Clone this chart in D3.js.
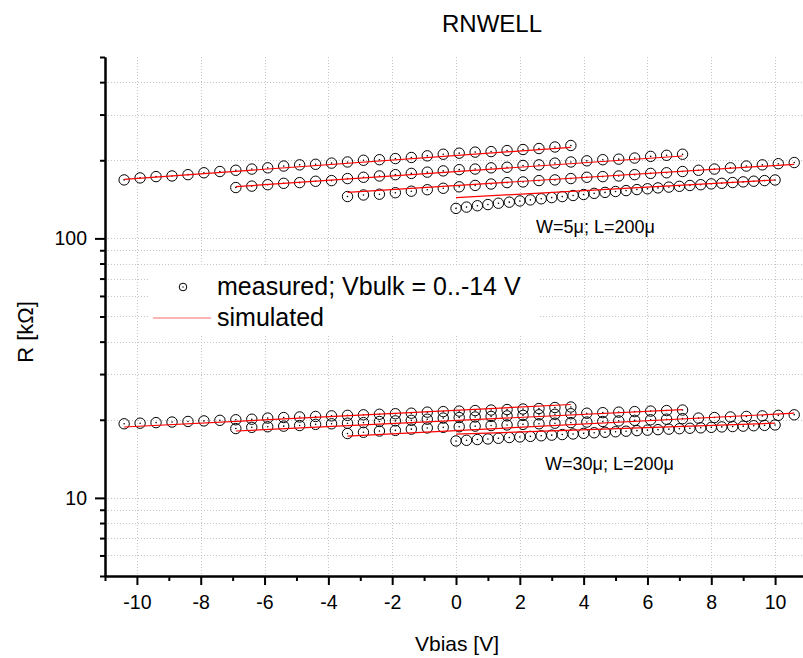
<!DOCTYPE html>
<html>
<head>
<meta charset="utf-8">
<script src="https://cdn.jsdelivr.net/npm/d3@7"></script>
<style>
    body { margin: 0; background: #fff; }
    text { font-family: Arial, "Liberation Sans", sans-serif; fill: #000; }
</style>
</head>
<body>
<div id="chart"></div>
<script>
// Vbias sweep points (V)
var vbiasA = [-10.4,-9.9,-9.4,-8.9,-8.4,-7.9,-7.4,-6.9,-6.4,-5.9,-5.4,-4.9,-4.4,-3.9,-3.4,-2.9,-2.4,-1.9,-1.4,-0.9,-0.4,0.1,0.6,1.1,1.6,2.1,2.6,3.1,3.6];
var vbiasB = [-6.9,-6.4,-5.9,-5.4,-4.9,-4.4,-3.9,-3.4,-2.9,-2.4,-1.9,-1.4,-0.9,-0.4,0.1,0.6,1.1,1.6,2.1,2.6,3.1,3.6,4.1,4.6,5.1,5.6,6.1,6.6,7.1];
var vbiasC = [-3.4,-2.9,-2.4,-1.9,-1.4,-0.9,-0.4,0.1,0.6,1.1,1.6,2.1,2.6,3.1,3.6,4.1,4.6,5.1,5.6,6.1,6.6,7.1,7.6,8.1,8.6,9.1,9.6,10.1,10.6];
var vbiasD = [0,0.33,0.67,1,1.33,1.67,2,2.33,2.67,3,3.33,3.67,4,4.33,4.67,5,5.33,5.67,6,6.33,6.67,7,7.33,7.67,8,8.33,8.67,9,9.33,9.67,10];

// measured R (kOhm), W=5u
var r5A = [168,171,173,174,176,179,181,183,185,187,190,192,193,195,197,200,201,203,205,208,211,213,215,216,218,220,222,225,228];
var r5B = [157,159,161,163,164,166,167,170,172,174,176,178,180,182,184,185,187,188,191,192,195,197,199,201,202,204,207,209,211];
var r5C = [145,147,148,150,152,154,156,158,160,162,164,165,167,168,170,172,173,174,176,178,179,181,183,185,187,190,192,194,196];
var r5D = [130.5,132,133.6,135,136.6,137.9,139.4,140.7,142.1,143.6,144.9,146.3,147.6,149.1,150.4,151.6,152.8,154.2,155.3,156.5,157.6,158.7,159.9,161,162.2,163,164.1,165.1,166.1,167,167.9];

// measured R (kOhm), W=30u
var r30A = [19.3,19.4,19.5,19.6,19.7,19.8,19.9,20.0,20.1,20.3,20.4,20.5,20.6,20.7,20.8,20.9,21.0,21.1,21.2,21.4,21.5,21.6,21.7,21.8,21.9,22.0,22.1,22.3,22.4];
var r30B = [18.5,18.7,18.8,18.9,19.0,19.2,19.3,19.4,19.5,19.7,19.8,19.9,20.1,20.3,20.4,20.5,20.6,20.7,20.8,20.9,21.0,21.1,21.2,21.3,21.4,21.5,21.6,21.7,21.8];
var r30C = [17.7,17.9,18.1,18.2,18.4,18.6,18.7,18.8,18.9,19.0,19.1,19.2,19.3,19.4,19.5,19.6,19.7,19.8,19.9,20.0,20.1,20.2,20.3,20.4,20.5,20.6,20.7,20.8,20.9];
var r30D = [16.57,16.67,16.78,16.87,16.97,17.08,17.17,17.26,17.35,17.45,17.54,17.63,17.73,17.82,17.9,17.98,18.07,18.16,18.24,18.32,18.4,18.47,18.55,18.62,18.7,18.77,18.83,18.9,18.97,19.03,19.1];

// simulated lines: end points of each sweep
var simXA = [-10.4, 3.6], simXB = [-6.9, 7.1], simXC = [-3.4, 10.6], simXD = [0, 10];
var sim5A = [168.9, 224.4], sim5B = [158.2, 207.7], sim5C = [150.5, 193.0], sim5D = [143.5, 167.9];
var sim30A = [18.76, 22.9], sim30B = [18.1, 21.87], sim30C = [17.3, 21.2], sim30D = [17.6, 19.4];

// axis ticks
var xMajor = [-10,-8,-6,-4,-2,0,2,4,6,8,10];
var xMinor = [-11,-9,-7,-5,-3,-1,1,3,5,7,9,11];
var yMajor = [10, 100];
var yMinor = [5,6,7,8,9,20,30,40,50,60,70,80,90,200,300,400,500];

var width = 803, height = 658;

var svg = d3.select("#chart")
    .append("svg")
    .attr("xmlns", "http://www.w3.org/2000/svg")
    .attr("width", width)
    .attr("height", height);

var x = d3.scaleLinear().domain([-11, 11]).range([105, 807]);
var y = d3.scaleLog().domain([5, 500]).range([576, 57]);

// dotted grid
var grid = svg.append("g")
    .attr("stroke", "#c4c4c4")
    .attr("stroke-dasharray", "1,2")
    .attr("stroke-width", 1);

grid.selectAll(".vg")
    .data(xMajor)
    .enter()
    .append("line")
    .attr("x1", function (d) { return Math.round(x(d)) + 0.5 })
    .attr("x2", function (d) { return Math.round(x(d)) + 0.5 })
    .attr("y1", y(500))
    .attr("y2", y(5));

grid.selectAll(".hg")
    .data(yMajor.concat(yMinor).filter(function (d) { return d > 5 && d < 500 }))
    .enter()
    .append("line")
    .attr("x1", x(-11))
    .attr("x2", width)
    .attr("y1", function (d) { return Math.round(y(d)) + 0.5 })
    .attr("y2", function (d) { return Math.round(y(d)) + 0.5 });

var series = [
    {vb: vbiasA, r: r5A, sx: simXA, s: sim5A},
    {vb: vbiasB, r: r5B, sx: simXB, s: sim5B},
    {vb: vbiasC, r: r5C, sx: simXC, s: sim5C},
    {vb: vbiasD, r: r5D, sx: simXD, s: sim5D},
    {vb: vbiasA, r: r30A, sx: simXA, s: sim30A},
    {vb: vbiasB, r: r30B, sx: simXB, s: sim30B},
    {vb: vbiasC, r: r30C, sx: simXC, s: sim30C},
    {vb: vbiasD, r: r30D, sx: simXD, s: sim30D}
];

var line = d3.line()
    .x(function (d) { return x(d[0]) })
    .y(function (d) { return y(d[1]) });

// measured circles
series.forEach(function (sr) {
    var pts = sr.vb.map(function (v, i) { return [v, sr.r[i]] });
    var g = svg.append("g").attr("class", "measured");
    g.selectAll("circle.m")
        .data(pts)
        .enter()
        .append("circle")
        .attr("class", "m")
        .attr("cx", function (d) { return x(d[0]) })
        .attr("cy", function (d) { return y(d[1]) })
        .attr("r", 5.2)
        .attr("fill", "none")
        .attr("stroke", "#000")
        .attr("stroke-width", 1);
    g.selectAll("circle.c")
        .data(pts)
        .enter()
        .append("circle")
        .attr("class", "c")
        .attr("cx", function (d) { return x(d[0]) })
        .attr("cy", function (d) { return y(d[1]) })
        .attr("r", 0.8)
        .attr("fill", "#000");
});

// simulated lines
series.forEach(function (sr) {
    svg.append("path")
        .datum(sr.sx.map(function (v, i) { return [v, sr.s[i]] }))
        .attr("d", line)
        .attr("fill", "none")
        .attr("stroke", "red")
        .attr("stroke-width", 1.2);
});

// axes
var fmt = function (d) { return String(d) };

svg.append("g")
    .attr("transform", "translate(0," + y(5) + ")")
    .call(d3.axisBottom(x).tickValues(xMinor).tickSize(5).tickFormat("").tickSizeOuter(0));
var xAxis = svg.append("g")
    .attr("transform", "translate(0," + y(5) + ")")
    .call(d3.axisBottom(x).tickValues(xMajor).tickSize(9).tickPadding(10).tickFormat(fmt).tickSizeOuter(0));

svg.append("g")
    .attr("transform", "translate(" + x(-11) + ",0)")
    .call(d3.axisLeft(y).tickValues(yMinor).tickSize(5).tickFormat("").tickSizeOuter(0));
var yAxis = svg.append("g")
    .attr("transform", "translate(" + x(-11) + ",0)")
    .call(d3.axisLeft(y).tickValues(yMajor).tickSize(10).tickPadding(8).tickFormat(fmt).tickSizeOuter(0));

svg.selectAll(".domain").attr("stroke-width", 2).attr("stroke", "#000");
svg.selectAll(".tick line").attr("stroke-width", 2).attr("stroke", "#000");
svg.selectAll(".tick text").attr("font-size", 19.5).attr("font-family", "Arial, 'Liberation Sans', sans-serif");

// axis titles
svg.append("text")
    .attr("x", 457)
    .attr("y", 651)
    .attr("text-anchor", "middle")
    .attr("font-size", 21)
    .text("Vbias [V]");

svg.append("text")
    .attr("transform", "translate(33,332) rotate(-90)")
    .attr("text-anchor", "middle")
    .attr("font-size", 22)
    .text("R [kΩ]");

svg.append("text")
    .attr("x", 492)
    .attr("y", 32)
    .attr("text-anchor", "middle")
    .attr("font-size", 24)
    .text("RNWELL");

// annotations
svg.append("text").attr("x", 536).attr("y", 233).attr("font-size", 18).text("W=5μ; L=200μ");
svg.append("text").attr("x", 545).attr("y", 470).attr("font-size", 18).text("W=30μ; L=200μ");

// legend
var legend = svg.append("g");
legend.append("rect")
    .attr("x", 150).attr("y", 266).attr("width", 390).attr("height", 68)
    .attr("fill", "#fff");
legend.append("circle")
    .attr("cx", 183).attr("cy", 287).attr("r", 3.8)
    .attr("fill", "none").attr("stroke", "#000");
legend.append("circle")
    .attr("cx", 183).attr("cy", 287).attr("r", 0.7).attr("fill", "#000");
legend.append("text").attr("x", 217).attr("y", 295).attr("font-size", 25).text("measured; Vbulk = 0..-14 V");
legend.append("line")
    .attr("x1", 153).attr("x2", 211).attr("y1", 318).attr("y2", 318)
    .attr("stroke", "#ff6a6a").attr("stroke-width", 1.2);
legend.append("text").attr("x", 217).attr("y", 326).attr("font-size", 25).text("simulated");
</script>
</body>
</html>
